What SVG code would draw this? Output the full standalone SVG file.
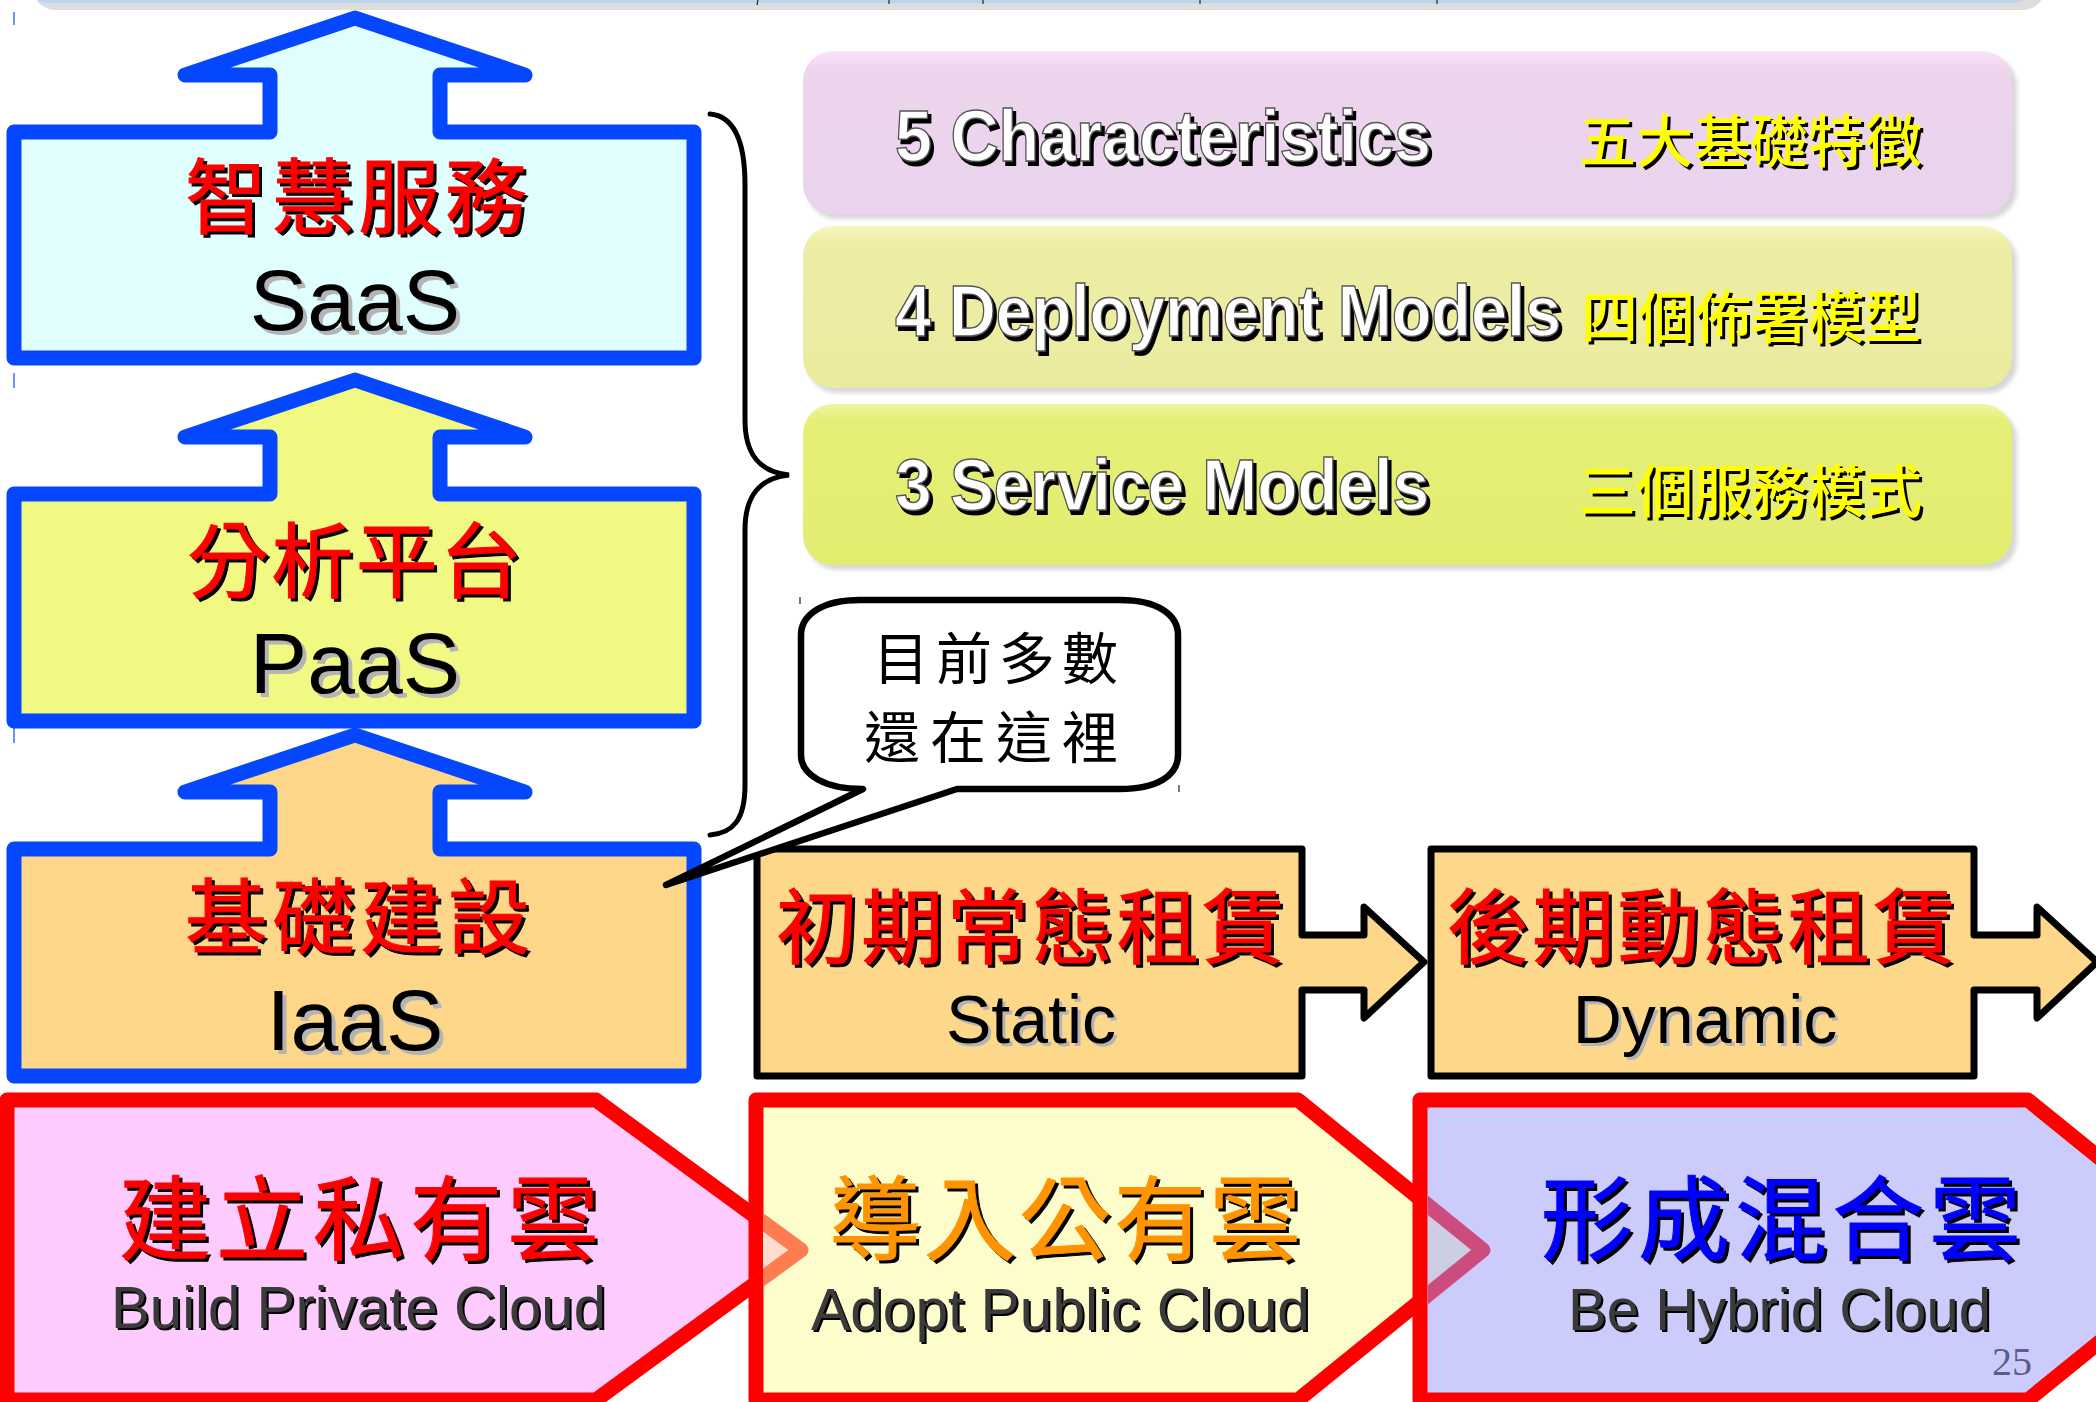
<svg xmlns="http://www.w3.org/2000/svg" xmlns:xlink="http://www.w3.org/1999/xlink" width="2096" height="1402" viewBox="0 0 2096 1402">
<defs>
<style>
.cjk{font-family:"Noto Sans CJK TC","Noto Sans CJK SC",sans-serif;}
.lat{font-family:"Liberation Sans",Arial,sans-serif;}
.stack{stroke:#0547FF;stroke-width:15;stroke-linejoin:round;}
.lease{stroke:#000;stroke-width:7;stroke-linejoin:round;fill:#FDD78A;}
.chev{stroke:#FF0000;stroke-width:15;stroke-linejoin:round;}
.ttl{font-size:82px;font-weight:400;}
.abbr{font-size:86px;text-anchor:middle;}
.pen{font-size:72px;font-weight:700;}
.pzh{font-size:57px;font-weight:500;}
.lzh{font-size:82px;font-weight:400;}
.len{font-size:68px;text-anchor:middle;}
.bzh{font-size:92px;font-weight:400;}
.ben{font-size:60px;}
.tick{stroke:#3B6FFF;stroke-width:1.5;}
.mark{stroke:#222;stroke-width:1.2;}
</style>
<linearGradient id="gP1" x1="0" y1="0" x2="0" y2="1">
<stop offset="0" stop-color="#FAE4FA"/><stop offset="0.1" stop-color="#EDD5EE"/><stop offset="1" stop-color="#EAD3EC"/>
</linearGradient>
<linearGradient id="gP2" x1="0" y1="0" x2="0" y2="1">
<stop offset="0" stop-color="#F7F7C2"/><stop offset="0.1" stop-color="#EDEDA4"/><stop offset="1" stop-color="#EBEBA0"/>
</linearGradient>
<linearGradient id="gP3" x1="0" y1="0" x2="0" y2="1">
<stop offset="0" stop-color="#EFF6A2"/><stop offset="0.1" stop-color="#E5EF76"/><stop offset="1" stop-color="#E2ED70"/>
</linearGradient>
<filter id="blur" x="-5%" y="-20%" width="110%" height="140%"><feGaussianBlur stdDeviation="2"/></filter>
<clipPath id="clipA"><rect x="763" y="1100" width="200" height="300"/></clipPath>
<clipPath id="clipH"><rect x="1428" y="1100" width="200" height="300"/></clipPath>

<text id="t-saas-zh" class="cjk ttl" x="185" y="227" textLength="342">智慧服務</text>
<text id="t-saas" class="lat abbr" x="355" y="330">SaaS</text>
<text id="t-paas-zh" class="cjk ttl" x="187" y="591" textLength="335">分析平台</text>
<text id="t-paas" class="lat abbr" x="355" y="693">PaaS</text>
<text id="t-iaas-zh" class="cjk ttl" x="185" y="947" textLength="345">基礎建設</text>
<text id="t-iaas" class="lat abbr" x="355" y="1050">IaaS</text>

<text id="t-p1en" class="lat pen" x="895" y="161" textLength="536" lengthAdjust="spacingAndGlyphs">5 Characteristics</text>
<text id="t-p1zh" class="cjk pzh" x="1579" y="162" textLength="343">五大基礎特徵</text>
<text id="t-p2en" class="lat pen" x="895" y="336" textLength="666" lengthAdjust="spacingAndGlyphs">4 Deployment Models</text>
<text id="t-p2zh" class="cjk pzh" x="1581" y="338" textLength="340">四個佈署模型</text>
<text id="t-p3en" class="lat pen" x="895" y="510" textLength="534" lengthAdjust="spacingAndGlyphs">3 Service Models</text>
<text id="t-p3zh" class="cjk pzh" x="1579" y="512" textLength="343">三個服務模式</text>

<text id="t-st-zh" class="cjk lzh" x="776" y="957" textLength="508">初期常態租賃</text>
<text id="t-st" class="lat len" x="1031" y="1043">Static</text>
<text id="t-dy-zh" class="cjk lzh" x="1447" y="957" textLength="508">後期動態租賃</text>
<text id="t-dy" class="lat len" x="1705" y="1043">Dynamic</text>

<text id="t-b1zh" class="cjk bzh" x="119" y="1253" textLength="480">建立私有雲</text>
<text id="t-b1en" class="lat ben" x="111" y="1328" textLength="495" lengthAdjust="spacingAndGlyphs">Build Private Cloud</text>
<text id="t-b2zh" class="cjk bzh" x="829" y="1253" textLength="472">導入公有雲</text>
<text id="t-b2en" class="lat ben" x="811" y="1330" textLength="499" lengthAdjust="spacingAndGlyphs">Adopt Public Cloud</text>
<text id="t-b3zh" class="cjk bzh" x="1541" y="1253" textLength="480">形成混合雲</text>
<text id="t-b3en" class="lat ben" x="1568" y="1330" textLength="423" lengthAdjust="spacingAndGlyphs">Be Hybrid Cloud</text>
</defs>

<rect width="2096" height="1402" fill="#FFFFFF"/>

<g id="top-bar">
<rect x="33" y="-50" width="2012" height="60" rx="22" fill="#DDDDDD"/>
<rect x="27" y="-60" width="2008" height="63" rx="22" fill="#BBD4EE"/>
<line class="mark" x1="758" y1="0" x2="757" y2="5"/>
<line class="mark" x1="889" y1="0" x2="889" y2="4"/>
<line class="mark" x1="983" y1="0" x2="983" y2="4"/>
<line class="mark" x1="1200" y1="0" x2="1200" y2="4"/>
<line class="mark" x1="1437" y1="0" x2="1437" y2="4"/>
<line class="tick" x1="14" y1="12" x2="14" y2="25"/>
<line class="tick" x1="14" y1="373" x2="14" y2="388"/>
<line class="tick" x1="14" y1="728" x2="14" y2="743"/>
</g>

<g id="node-saas">
<path class="stack" fill="#E1FEFE" d="M14,132 H270 V75 H185 L355,18 L525,75 H440 V132 H694 V358 H14 Z"/>
<use xlink:href="#t-saas-zh" fill="#000" stroke="#000" stroke-width="1" x="3" y="3"/><use xlink:href="#t-saas-zh" fill="#FF0000" stroke="#FF0000" stroke-width="1"/>
<use xlink:href="#t-saas" fill="#B4B4B4" x="4" y="4"/><use xlink:href="#t-saas" fill="#000"/>
</g>
<g id="node-paas">
<path class="stack" fill="#F1F982" d="M14,494 H270 V437 H185 L355,380 L525,437 H440 V494 H694 V721 H14 Z"/>
<use xlink:href="#t-paas-zh" fill="#000" stroke="#000" stroke-width="1" x="3" y="3"/><use xlink:href="#t-paas-zh" fill="#FF0000" stroke="#FF0000" stroke-width="1"/>
<use xlink:href="#t-paas" fill="#B4B4B4" x="4" y="4"/><use xlink:href="#t-paas" fill="#000"/>
</g>
<g id="node-iaas">
<path class="stack" fill="#FDD68A" d="M14,849 H270 V792 H185 L355,735 L525,792 H440 V849 H694 V1076 H14 Z"/>
<use xlink:href="#t-iaas-zh" fill="#000" stroke="#000" stroke-width="1" x="3" y="3"/><use xlink:href="#t-iaas-zh" fill="#FF0000" stroke="#FF0000" stroke-width="1"/>
<use xlink:href="#t-iaas" fill="#B4B4B4" x="4" y="4"/><use xlink:href="#t-iaas" fill="#000"/>
</g>

<g id="connectors">
<path id="brace" fill="none" stroke="#000" stroke-width="5" stroke-linecap="round" d="M710,114 C733,116 745,140 745,185 L745,420 C745,455 760,472 789,475 C760,478 745,495 745,530 L745,785 C745,820 733,833 710,835"/>
</g>

<g id="panel-characteristics">
<rect x="807" y="56" width="1210" height="163" rx="30" fill="#BDBDBD" opacity="0.6" filter="url(#blur)"/>
<rect x="803" y="51" width="1209" height="163" rx="30" fill="url(#gP1)"/>
<use xlink:href="#t-p1en" fill="#000" stroke="#000" stroke-width="2" x="3" y="4"/><use xlink:href="#t-p1en" fill="#FFFFFF" stroke="#555" stroke-width="1.4"/>
<use xlink:href="#t-p1zh" fill="#000" x="3" y="3"/><use xlink:href="#t-p1zh" fill="#FFFF00"/>
</g>
<g id="panel-deployment">
<rect x="807" y="231" width="1210" height="162" rx="30" fill="#BDBDBD" opacity="0.6" filter="url(#blur)"/>
<rect x="803" y="226" width="1209" height="162" rx="30" fill="url(#gP2)"/>
<use xlink:href="#t-p2en" fill="#000" stroke="#000" stroke-width="2" x="3" y="4"/><use xlink:href="#t-p2en" fill="#FFFFFF" stroke="#555" stroke-width="1.4"/>
<use xlink:href="#t-p2zh" fill="#000" x="3" y="3"/><use xlink:href="#t-p2zh" fill="#FFFF00"/>
</g>
<g id="panel-service">
<rect x="807" y="409" width="1210" height="161" rx="30" fill="#BDBDBD" opacity="0.6" filter="url(#blur)"/>
<rect x="803" y="404" width="1209" height="161" rx="30" fill="url(#gP3)"/>
<use xlink:href="#t-p3en" fill="#000" stroke="#000" stroke-width="2" x="3" y="4"/><use xlink:href="#t-p3en" fill="#FFFFFF" stroke="#555" stroke-width="1.4"/>
<use xlink:href="#t-p3zh" fill="#000" x="3" y="3"/><use xlink:href="#t-p3zh" fill="#FFFF00"/>
</g>

<g id="node-static">
<path class="lease" d="M757,849 H1302 V935 H1364 V907 L1424,962 L1364,1018 V990 H1302 V1076 H757 Z"/>
<use xlink:href="#t-st-zh" fill="#000" stroke="#000" stroke-width="1" x="3" y="3"/><use xlink:href="#t-st-zh" fill="#FF0000" stroke="#FF0000" stroke-width="1"/>
<use xlink:href="#t-st" fill="#B4B4B4" x="3" y="3"/><use xlink:href="#t-st" fill="#000"/>
</g>
<g id="node-dynamic">
<path class="lease" d="M1431,849 H1974 V935 H2037 V907 L2097,962 L2037,1018 V990 H1974 V1076 H1431 Z"/>
<use xlink:href="#t-dy-zh" fill="#000" stroke="#000" stroke-width="1" x="3" y="3"/><use xlink:href="#t-dy-zh" fill="#FF0000" stroke="#FF0000" stroke-width="1"/>
<use xlink:href="#t-dy" fill="#B4B4B4" x="3" y="3"/><use xlink:href="#t-dy" fill="#000"/>
</g>

<g id="node-callout">
<path fill="#FFFFFF" stroke="#000" stroke-width="6.5" stroke-linejoin="round" d="M860,600 H1120 C1158,600 1178,615 1178,635 V755 C1178,775 1158,789 1120,789 H957 L666,885 L863,789 C825,789 801,775 801,755 V635 C801,615 822,600 860,600 Z"/>
<text class="cjk" font-size="56" fill="#000" x="873" y="679" textLength="245">目前多數</text>
<text class="cjk" font-size="56" fill="#000" x="864" y="758" textLength="254">還在這裡</text>
<line class="mark" x1="800" y1="597" x2="800" y2="604"/>
<line class="mark" x1="1179" y1="785" x2="1179" y2="792"/>
</g>

<g id="node-private">
<path class="chev" fill="#FDCBFD" d="M7,1100 H596 L801,1250 L596,1400 H7 Z"/>
<use xlink:href="#t-b1zh" fill="#000" stroke="#000" stroke-width="1" x="3" y="3"/><use xlink:href="#t-b1zh" fill="#FF0000" stroke="#FF0000" stroke-width="1"/>
<use xlink:href="#t-b1en" fill="#000" x="2" y="2"/><use xlink:href="#t-b1en" fill="#3A3A3A"/>
</g>
<g id="node-public">
<path class="chev" fill="#FDFDCC" d="M756,1100 H1298 L1483,1250 L1298,1400 H756 Z"/>
<path clip-path="url(#clipA)" fill="#FEDDCE" stroke="#FE7D50" stroke-width="15" stroke-linejoin="round" d="M596,1100 L801,1250 L596,1400 Z"/>
<use xlink:href="#t-b2zh" fill="#000" stroke="#000" stroke-width="1" x="3" y="3"/><use xlink:href="#t-b2zh" fill="#FF9400" stroke="#FF9400" stroke-width="1"/>
<use xlink:href="#t-b2en" fill="#000" x="2" y="2"/><use xlink:href="#t-b2en" fill="#3A3A3A"/>
</g>
<g id="node-hybrid">
<path class="chev" fill="#CCCCFC" d="M1420,1100 H2028 L2213,1250 L2028,1400 H1420 Z"/>
<path clip-path="url(#clipH)" fill="#CDCDE4" stroke="#CC4C7E" stroke-width="15" stroke-linejoin="round" d="M1298,1100 L1483,1250 L1298,1400 Z"/>
<use xlink:href="#t-b3zh" fill="#000" stroke="#000" stroke-width="1" x="3" y="3"/><use xlink:href="#t-b3zh" fill="#0000FF" stroke="#0000FF" stroke-width="1"/>
<use xlink:href="#t-b3en" fill="#000" x="2" y="2"/><use xlink:href="#t-b3en" fill="#3A3A3A"/>
<text font-family="'Liberation Serif','Times New Roman',serif" font-size="40" fill="#5C5C8A" x="1992" y="1375">25</text>
</g>
</svg>
